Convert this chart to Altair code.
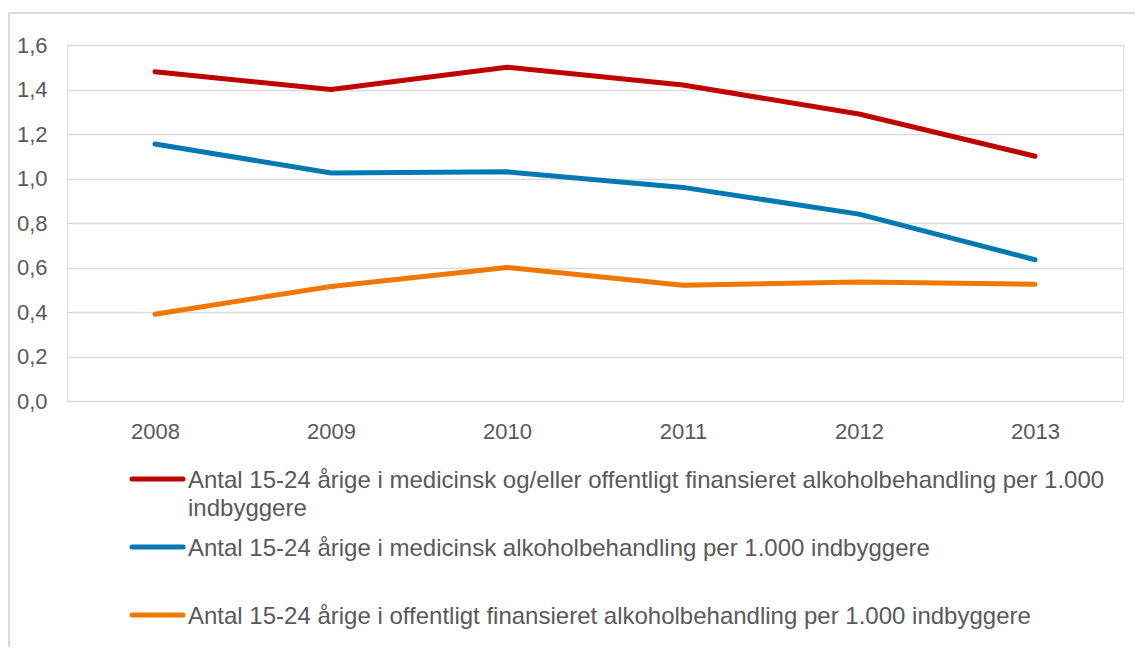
import altair as alt
import pandas as pd

years = ["2008", "2009", "2010", "2011", "2012", "2013"]
series_names = [
    "Antal 15-24 årige i medicinsk og/eller offentligt finansieret alkoholbehandling per 1.000 indbyggere",
    "Antal 15-24 årige i medicinsk alkoholbehandling per 1.000 indbyggere",
    "Antal 15-24 årige i offentligt finansieret alkoholbehandling per 1.000 indbyggere",
]
red_values = [1.48, 1.40, 1.50, 1.42, 1.29, 1.10]
blue_values = [1.155, 1.025, 1.03, 0.96, 0.84, 0.635]
orange_values = [0.39, 0.515, 0.60, 0.52, 0.535, 0.525]
colors = ["#C00000", "#0078B2", "#F07800"]
y_ticks = [0, 0.2, 0.4, 0.6, 0.8, 1.0, 1.2, 1.4, 1.6]

rows = []
for name, vals in zip(series_names, [red_values, blue_values, orange_values]):
    for y, v in zip(years, vals):
        rows.append({"year": y, "value": v, "series": name})
df = pd.DataFrame(rows)
legend_df = pd.DataFrame({"series": series_names})

font = "Liberation Sans"
gray = "#595959"

color_scale = alt.Scale(domain=series_names, range=colors)

lines = (
    alt.Chart(df)
    .mark_line(strokeWidth=5, strokeCap="round", strokeJoin="round")
    .encode(
        x=alt.X(
            "year:O",
            sort=years,
            scale=alt.Scale(paddingOuter=0.5),
            axis=alt.Axis(
                title=None, labelAngle=0, ticks=False, domain=False, grid=False,
                labelPadding=20, labelFontSize=22, labelColor=gray, labelFont=font,
            ),
        ),
        y=alt.Y(
            "value:Q",
            scale=alt.Scale(domain=[0, 1.6], nice=False),
            axis=alt.Axis(
                title=None, values=y_ticks,
                labelExpr="replace(format(datum.value, '.1f'), '.', ',')",
                ticks=False, domain=False, gridColor="#d9d9d9", gridWidth=1.5,
                labelPadding=20, labelFontSize=22, labelColor=gray, labelFont=font,
            ),
        ),
        color=alt.Color("series:N", scale=color_scale, legend=None),
    )
)

legend_y = alt.Y(
    "series:N", sort=series_names,
    scale=alt.Scale(type="point", domain=series_names, range=[434, 570], padding=0),
    axis=None,
)

legend_symbols = (
    alt.Chart(legend_df)
    .mark_rule(strokeWidth=5, strokeCap="round")
    .encode(
        x=alt.value(65), x2=alt.value(116),
        y=legend_y,
        color=alt.Color("series:N", scale=color_scale, legend=None),
    )
)

legend_labels = (
    alt.Chart(legend_df)
    .transform_calculate(
        lbl="length(datum.series) > 90 ? "
            "substring(datum.series, 0, lastindexof(datum.series, ' ')) + '\\n' + "
            "substring(datum.series, lastindexof(datum.series, ' ') + 1) : datum.series"
    )
    .mark_text(
        align="left", baseline="alphabetic", dy=8.5, lineBreak="\n", lineHeight=28,
        fontSize=24, font=font, color=gray,
    )
    .encode(x=alt.value(121), y=legend_y, text="lbl:N")
)

frame = (
    alt.Chart(legend_df)
    .mark_rect(fill=None, stroke="#d9d9d9", strokeWidth=1.5)
    .encode(x=alt.value(-58), x2=alt.value(1090), y=alt.value(-32), y2=alt.value(640))
)

chart = (
    alt.layer(frame, lines, legend_symbols, legend_labels)
    .resolve_scale(y="independent")
    .properties(width=1056, height=356,
                padding={"left": 59, "top": 37, "right": 12, "bottom": 246},
                autosize=alt.AutoSizeParams(type="none"))
    .configure_view(stroke=None)
    .configure(font=font)
)

chart.save("out.html", embed_options={"renderer": "svg", "actions": False})
